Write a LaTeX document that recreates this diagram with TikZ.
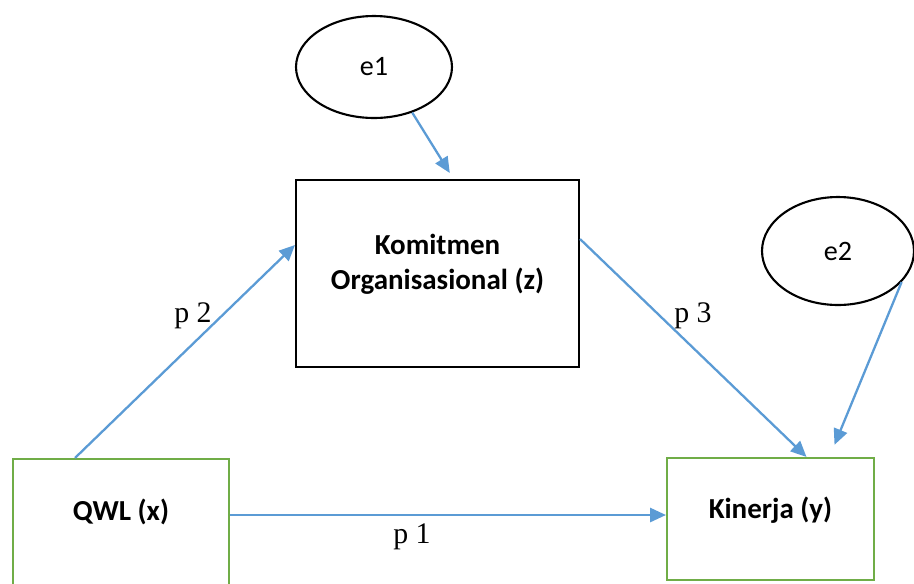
\documentclass[tikz,border=0pt]{standalone}
\usepackage{fontspec}
\setmainfont{Liberation Serif}
\newfontfamily\calibri{Carlito}
\usepackage{tikz}
\usetikzlibrary{arrows.meta,positioning,calc,shapes.geometric}
\definecolor{pathBlue}{RGB}{91,155,213}
\definecolor{boxGreen}{RGB}{112,173,71}

\begin{document}
\begin{tikzpicture}[x=0.02cm, y=-0.02cm, >={Triangle[length=9pt,width=8pt]}]
\tikzstyle{var}=[rectangle, draw=black, line width=1.2pt, inner sep=0pt]
\tikzstyle{obs}=[var, draw=boxGreen]
\tikzstyle{err}=[ellipse, draw=black, line width=1.2pt, inner sep=0pt, font=\calibri\fontsize{16}{19}\selectfont]
\tikzstyle{vartext}=[font=\calibri\bfseries\fontsize{16.5}{19.8}\selectfont, align=center]
\tikzstyle{edge}=[->, draw=pathBlue, line width=1.3pt]
\tikzstyle{coef}=[font=\fontsize{17}{20}\selectfont]
\useasboundingbox (0,0) rectangle (914,583);
% variables
\node[var, minimum width=5.66cm, minimum height=3.74cm,
  label={[vartext, yshift=5.4pt]center:Komitmen\\Organisasional (z)}] (komit) at (437.5,273.5) {};
\node[obs, minimum width=4.32cm, minimum height=2.82cm,
  label={[vartext, yshift=9.9pt]center:QWL (x)}] (qwl) at (121,529.5) {};
\node[obs, minimum width=4.14cm, minimum height=2.44cm,
  label={[vartext, yshift=5.1pt]center:Kinerja (y)}] (kin) at (770.5,519) {};
% error terms
\node[err, minimum width=3.12cm, minimum height=2.04cm] (e1) at (374,67) {e1};
\node[err, minimum width=3.04cm, minimum height=2.16cm] (e2) at (838,251) {e2};
% paths
\draw[edge] ($(qwl.north)+(-46,0)$) -- ($(komit.west)+(0,-28.5)$);
\draw[edge] ($(komit.east)+(0,-34.5)$) -- ($(kin.north)+(36,0)$);
\draw[edge] ([yshift=0.29cm]qwl.east) -- ([yshift=0.29cm]qwl.east -| kin.west);
\draw[edge, shorten >=4pt] (e1.-50) -- ($(komit.north)+(16,0)$);
\draw[edge, shorten >=7.5pt] (e2.-26) -- ($(kin.north)+(59,0)$);
% coefficients
\node[coef] (lblp2) at (193,316) {p 2};
\node[coef] (lblp3) at (693,316) {p 3};
\node[coef] (lblp1) at (412,537) {p 1};
\end{tikzpicture}
\end{document}
